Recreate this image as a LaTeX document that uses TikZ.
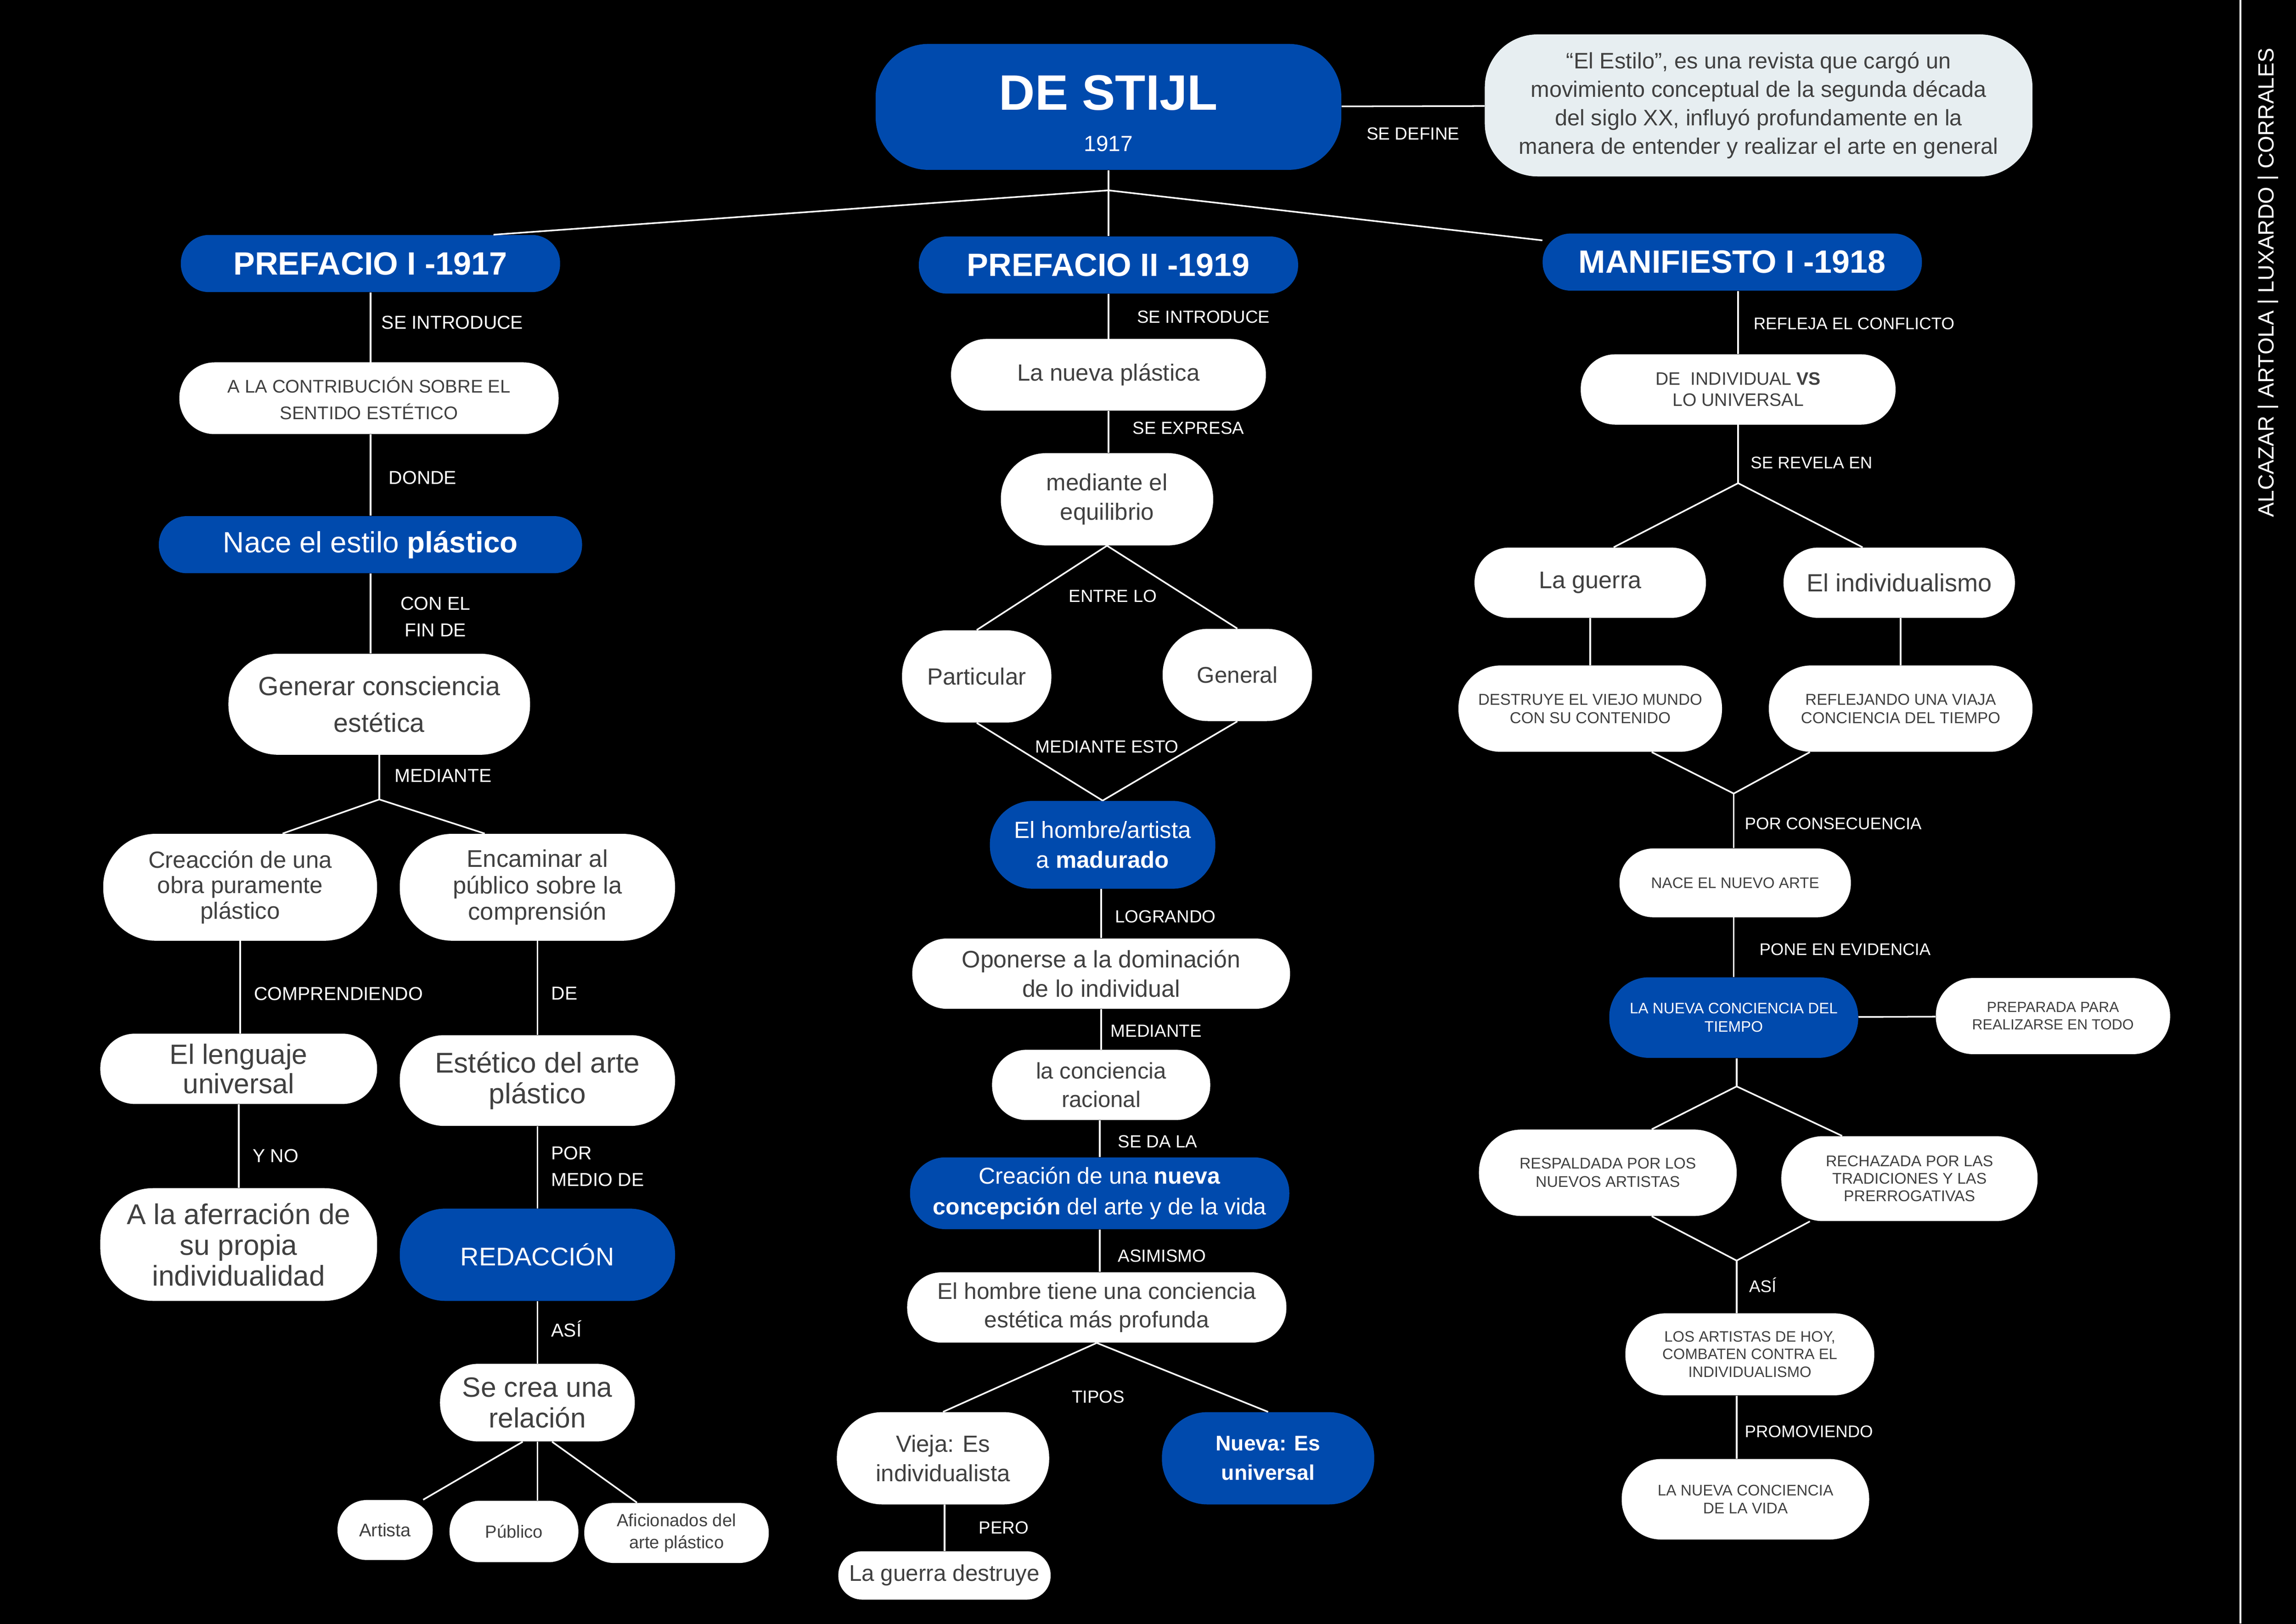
\documentclass[tikz,border=0pt]{standalone}
\usepackage{fontspec}
\setmainfont{Liberation Sans}
\usepackage{tikz}
\definecolor{stijlblue}{HTML}{004AAD}
\definecolor{defgray}{HTML}{E7EEF1}
\definecolor{txtgray}{HTML}{404040}
\newcommand{\fsz}[2]{\fontsize{#1}{#2}\selectfont}
\tikzset{
  pill/.style n args={2}{minimum width=#1, minimum height=#2, inner sep=0pt, align=center, rounded corners={min(36,0.49*#2)*1pt}},
  wbox/.style={fill=white, text=txtgray},
  bluebox/.style={fill=stijlblue, text=white},
  hdr/.style={bluebox, font=\fsz{22}{24}\bfseries},
  defbox/.style={fill=defgray, text=txtgray, font=\fsz{15.3}{19.5}},
  lbl/.style={text=white, inner sep=0pt, align=left, font=\fsz{#1}{18}},
  lbl/.default=12,
  conn/.style={draw=white, line width=1.1pt}
}
\begin{document}
\begin{tikzpicture}[x=1pt,y=-1pt]
\useasboundingbox (0,0) rectangle (1568,1109);
\fill[black] (-6,-6) rectangle (1574,1115);

\node[bluebox, pill={318}{86}, font=\fsz{15}{28}] (stijl) at (757,73) {{\fsz{34}{34}\bfseries\rule{0pt}{32.5pt}DE STIJL}\\1917};
\node[defbox, pill={374}{97}] (def) at (1201,72) {“El Estilo”, es una revista que cargó un\\movimiento conceptual de la segunda década\\del siglo XX, influyó profundamente en la\\manera de entender y realizar el arte en general};
\draw[conn] (stijl) -- (def) node[lbl, midway, below=14pt] {SE DEFINE};

\node[hdr, pill={259}{39}] (pre1) at (253,180) {PREFACIO I -1917};
\node[hdr, pill={259}{39}] (pre2) at (757,181) {PREFACIO II -1919};
\node[hdr, pill={259}{39}] (man) at (1183,179) {MANIFIESTO I -1918};

\coordinate (top) at (757,130);
\draw[conn] (stijl.south) -- (top);
\draw[conn] (top) -- ([xshift=84pt]pre1.north);
\draw[conn] (top) -- (pre2.north);
\draw[conn] (top) -- (man);

% prefacio I
\node[wbox, pill={259}{49}, font=\fsz{12.5}{18}] (contrib) at (252,272) {A LA CONTRIBUCIÓN SOBRE EL\\SENTIDO ESTÉTICO};
\node[bluebox, pill={289}{39}, font=\fsz{20}{24}] (nace) at (253,372) {Nace el estilo \textbf{plástico}};
\node[wbox, pill={206}{69}, font=\fsz{18}{25}] (gen) at (259,481) {Generar consciencia\\estética};
\node[wbox, pill={187}{73}, font=\fsz{16}{17.5}] (cre) at (164,606) {Creacción de una\\obra puramente\\plástico};
\node[wbox, pill={188}{73}, font=\fsz{16.5}{18}] (enc) at (367,606) {Encaminar al\\público sobre la\\comprensión};
\node[wbox, pill={189}{48}, font=\fsz{19}{20}] (len) at (163,730) {El lenguaje\\universal};
\node[wbox, pill={188}{62}, font=\fsz{19.5}{21}] (est) at (367,738) {Estético del arte\\plástico};
\node[wbox, pill={189}{77}, font=\fsz{19.5}{21}] (afe) at (163,850) {A la aferración de\\su propia\\individualidad};
\node[bluebox, pill={188}{63}, font=\fsz{17.5}{20}] (red) at (367,857) {REDACCIÓN};
\node[wbox, pill={133}{53}, font=\fsz{19}{21}] (rel) at (367,958) {Se crea una\\relación};
\node[wbox, pill={65}{41}, font=\fsz{12.5}{15}] (art) at (263,1045) {Artista};
\node[wbox, pill={88}{42}, font=\fsz{12}{15}] (pub) at (351,1046) {Público};
\node[wbox, pill={126}{41}, font=\fsz{12}{15}] (afi) at (462,1047) {Aficionados del\\arte plástico};

\draw[conn] (pre1.south) -- (pre1.south |- contrib.north) node[lbl=12.8, pos=0.43, right=7pt] {SE INTRODUCE};
\draw[conn] (pre1.south |- contrib.south) -- (pre1.south |- nace.north) node[lbl=12.8, pos=0.53, right=12pt] {DONDE};
\draw[conn] (nace.south) -- (nace.south |- gen.north) node[lbl=12.8, pos=0.54, right=20pt, align=center] {CON EL\\FIN DE};
\coordinate (gj) at (259,546);
\draw[conn] (gen.south) -- (gj) node[lbl=12.8, pos=0.47, right=10pt] {MEDIANTE};
\draw[conn] (gj) -- ([xshift=29pt]cre.north);
\draw[conn] (gj) -- ([xshift=-36pt]enc.north);
\draw[conn] (cre.south) -- (cre.south |- len.north) node[lbl=12.8, pos=0.57, right=9pt] {COMPRENDIENDO};
\draw[conn] (enc.south) -- (enc.south |- est.north) node[lbl=12.8, pos=0.56, right=9pt] {DE};
\draw[conn] (len.south) -- (len.south |- afe.north) node[lbl=12.8, pos=0.62, right=9pt] {Y NO};
\draw[conn] (est.south) -- (est.south |- red.north) node[lbl=12.8, pos=0.49, right=9pt] {POR\\MEDIO DE};
\draw[conn] (red.south) -- (red.south |- rel.north) node[lbl=12.8, pos=0.44, right=9pt] {ASÍ};
\draw[conn] ([xshift=-10pt]rel.south) -- ([xshift=26pt]art.north);
\draw[conn] (rel.south) -- ([xshift=16pt]pub.north);
\draw[conn] ([xshift=10pt]rel.south) -- ([xshift=-27pt]afi.north);

% prefacio II
\node[wbox, pill={215}{49}, font=\fsz{16}{20}] (nue) at (757,256) {La nueva plástica};
\node[wbox, pill={145}{63}, font=\fsz{16}{20}] (equ) at (756,341) {mediante el\\equilibrio};
\node[wbox, pill={102}{63}, font=\fsz{16}{20}] (par) at (667,462) {Particular};
\node[wbox, pill={102}{63}, font=\fsz{15.5}{20}] (gnl) at (845,461) {General};
\node[bluebox, pill={154}{60}, font=\fsz{16}{20.5}] (hom) at (753,577) {El hombre/artista\\a \textbf{madurado}};
\node[wbox, pill={258}{48}, font=\fsz{16.3}{20}] (opo) at (752,665) {Oponerse a la dominación\\de lo individual};
\node[wbox, pill={149}{48}, font=\fsz{15.4}{19.5}] (rac) at (752,741) {la conciencia\\racional};
\node[bluebox, pill={259}{49}, font=\fsz{15.7}{21}] (cnc) at (751,815) {Creación de una \textbf{nueva}\\\textbf{concepción} del arte y de la vida};
\node[wbox, pill={259}{48}, font=\fsz{15.6}{19.5}] (prof) at (749,893) {El hombre tiene una conciencia\\estética más profunda};
\node[wbox, pill={145}{63}, font=\fsz{16}{20}] (vie) at (644,996) {Vieja: Es\\individualista};
\node[bluebox, pill={145}{63}, font=\fsz{14.5}{20}\bfseries] (nva) at (866,996) {Nueva: Es\\universal};
\node[wbox, pill={145}{33}, font=\fsz{15.5}{20}] (gue) at (645,1076) {La guerra destruye};
\node[lbl] (entre) at (760,407) {ENTRE LO};
\node[lbl] (esto) at (756,510) {MEDIANTE ESTO};
\node[lbl] (tipos) at (750,954) {TIPOS};

\draw[conn] (pre2.south) -- (pre2.south |- nue.north) node[lbl, pos=0.52, right=19pt] {SE INTRODUCE};
\draw[conn] (pre2.south |- nue.south) -- (pre2.south |- equ.north) node[lbl, pos=0.41, right=16pt] {SE EXPRESA};
\draw[conn] (equ.south) -- (par.north);
\draw[conn] (equ.south) -- (gnl.north);
\draw[conn] (par.south) -- (hom.north);
\draw[conn] (gnl.south) -- (hom.north);
\draw[conn] (opo.north |- hom.south) -- (opo.north) node[lbl, pos=0.56, right=9pt] {LOGRANDO};
\draw[conn] (opo.south) -- (opo.south |- rac.north) node[lbl, pos=0.54, right=6pt] {MEDIANTE};
\draw[conn] (cnc.north |- rac.south) -- (cnc.north) node[lbl, pos=0.58, right=12pt] {SE DA LA};
\draw[conn] (cnc.south) -- (cnc.south |- prof.north) node[lbl, pos=0.62, right=12pt] {ASIMISMO};
\draw[conn] (prof.south) -- (vie.north);
\draw[conn] (prof.south) -- (nva.north);
\draw[conn] (gue.north |- vie.south) -- (gue.north) node[lbl, pos=0.5, right=23pt] {PERO};

% manifiesto I
\node[wbox, pill={215}{48}, font=\fsz{12.3}{14.5}] (ind) at (1187,266) {DE\ \ INDIVIDUAL \textbf{VS}\\LO UNIVERSAL};
\node[wbox, pill={158}{48}, font=\fsz{16.4}{20}] (war) at (1086,398) {La guerra};
\node[wbox, pill={158}{48}, font=\fsz{17}{20}] (idv) at (1297,398) {El individualismo};
\node[wbox, pill={180}{59}, font=\fsz{10.8}{12.5}] (des) at (1086,484) {DESTRUYE EL VIEJO MUNDO\\CON SU CONTENIDO};
\node[wbox, pill={180}{59}, font=\fsz{10.8}{12.5}] (ref) at (1298,484) {REFLEJANDO UNA VIAJA\\CONCIENCIA DEL TIEMPO};
\node[wbox, pill={158}{47}, font=\fsz{10.4}{12.5}] (nac) at (1185,603) {NACE EL NUEVO ARTE};
\node[bluebox, pill={170}{55}, font=\fsz{10.4}{12.5}] (tie) at (1184,695) {LA NUEVA CONCIENCIA DEL\\TIEMPO};
\node[wbox, pill={160}{52}, font=\fsz{10}{12}] (prep) at (1402,694) {PREPARADA PARA\\REALIZARSE EN TODO};
\node[wbox, pill={176}{59}, font=\fsz{10.6}{12.5}] (res) at (1098,801) {RESPALDADA POR LOS\\NUEVOS ARTISTAS};
\node[wbox, pill={175}{58}, font=\fsz{10.6}{12}] (rec) at (1304,805) {RECHAZADA POR LAS\\TRADICIONES Y LAS\\PRERROGATIVAS};
\node[wbox, pill={170}{56}, font=\fsz{10.3}{12}] (los) at (1195,925) {LOS ARTISTAS DE HOY,\\COMBATEN CONTRA EL\\INDIVIDUALISMO};
\node[wbox, pill={169}{55}, font=\fsz{10.5}{12}] (vid) at (1192,1024) {LA NUEVA CONCIENCIA\\DE LA VIDA};

\draw[conn] (ind.north |- man.south) -- (ind.north) node[lbl=11.5, pos=0.52, right=10pt] {REFLEJA EL CONFLICTO};
\coordinate (rj) at (1187,330);
\draw[conn] (ind.south) -- (rj) node[lbl=11.5, pos=0.65, right=8pt] {SE REVELA EN};
\draw[conn] (rj) -- ([xshift=16pt]war.north);
\draw[conn] (rj) -- ([xshift=-25pt]idv.north);
\draw[conn] (war) -- (des);
\draw[conn] (ref.north |- idv.south) -- (ref.north);
\coordinate (cj) at (1184,542);
\draw[conn] ([xshift=42pt]des.south) -- (cj);
\draw[conn] ([xshift=-62pt]ref.south) -- (cj);
\draw[conn] (cj) -- (cj |- nac.north) node[lbl=11.5, pos=0.55, right=7pt] {POR CONSECUENCIA};
\draw[conn] (cj |- nac.south) -- (cj |- tie.north) node[lbl=11.5, pos=0.54, right=17pt] {PONE EN EVIDENCIA};
\draw[conn] (tie) -- (prep);
\coordinate (tj) at (1186,742);
\draw[conn] (tj |- tie.south) -- (tj);
\draw[conn] (tj) -- ([xshift=30pt]res.north);
\draw[conn] (tj) -- ([xshift=-46pt]rec.north);
\coordinate (aj) at (1186,861);
\draw[conn] ([xshift=30pt]res.south) -- (aj);
\draw[conn] ([xshift=-68pt]rec.south) -- (aj);
\draw[conn] (aj) -- (aj |- los.north) node[lbl=11.5, pos=0.47, right=8pt] {ASÍ};
\draw[conn] (aj |- los.south) -- (aj |- vid.north) node[lbl=11.5, pos=0.57, right=5pt] {PROMOVIENDO};

\draw[white, line width=1.2pt] (1530,0) -- (1530,1109);
\node[rotate=90, text=white, font=\fsz{15}{18}] (autores) at (1549,193) {ALCAZAR | ARTOLA | LUXARDO | CORRALES};
\end{tikzpicture}
\end{document}
